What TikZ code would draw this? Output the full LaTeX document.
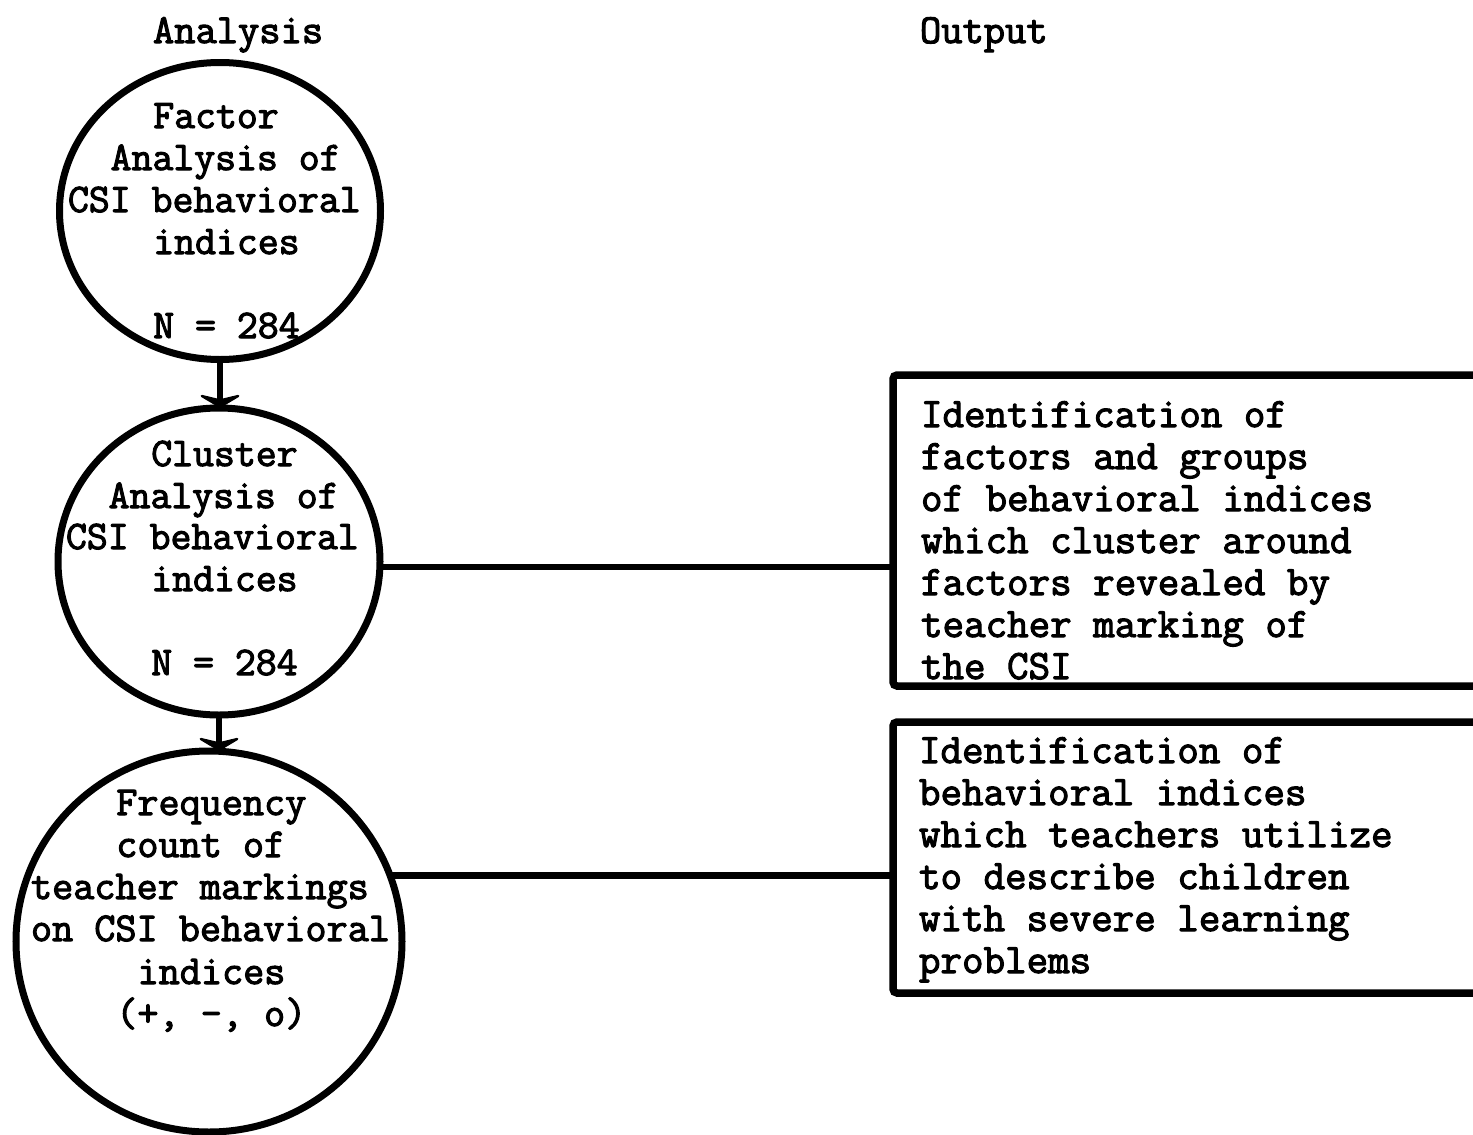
\documentclass[tikz,border=0pt]{standalone}
\usepackage{fontspec}
\newfontfamily\tw{Latin Modern Mono}[FakeBold=2.6]
\usetikzlibrary{shapes.geometric,arrows.meta}
% character pitch of the typewriter face in the circles
\newcommand\pch{21.32}
\begin{document}
\begin{tikzpicture}[x=1pt,y=-1pt,
  tw/.style={font={\tw\fontsize{#1}{42}\selectfont}, anchor=base west, inner sep=0, outer sep=0},
  tw/.default=40.6,
  bubble/.style={ellipse, draw, line width=7, inner sep=0, outer sep=0},
  outbox/.style={draw, line width=7.5, rounded corners=4, inner sep=0, outer sep=0, anchor=north west},
  link/.style={line width=6.5},
  arr/.style={line width=5.5, -{Stealth[length=15, width=50, inset=6, round]}}]
\useasboundingbox (0,0) rectangle (1473,1135);
\clip (0,0) rectangle (1473,1135);

% column headings
\node[tw=41.3] (hA) at (153,43) {Analysis};
\node[tw=41.3] (hO) at (920,43) {Output};

% analysis steps
\node[bubble, minimum width=321, minimum height=297] (c1) at (220,211) {};
\node[bubble, minimum width=322, minimum height=307] (c2) at (219,561.5) {};
\node[bubble, minimum width=386, minimum height=381] (c3) at (209,941.5) {};

\foreach \s/\b/\t [count=\i] in {4/128/Factor, 2/170/Analysis of, 0/212/CSI behavioral, 4/254/indices, 4/338/N = 284}
  \node[tw] (fa\i) at (68+\s*\pch, \b) {\t};

\foreach \s/\b/\t [count=\i] in {4/466/Cluster, 2/508/Analysis of, 0/549/CSI behavioral, 4/591/indices, 4/675/N = 284}
  \node[tw] (ca\i) at (66+\s*\pch, \b) {\t};

\foreach \s/\b/\t [count=\i] in {4/815/Frequency, 4/857/count of, 0/899/teacher markings, 0/941/on CSI behavioral, 5/984/indices, 4/1026/{(+, -, o)}}
  \node[tw=41] (fc\i) at (31+\s*\pch, \b) {\t};

% outputs
\node[outbox, minimum width=650, minimum height=311] (b1) at (893,375) {};
\node[outbox, minimum width=650, minimum height=271] (b2) at (893,722) {};

\foreach \t [count=\i] in {Identification of, factors and groups, of behavioral indices, which cluster around, factors revealed by, teacher marking of, the CSI}
  \node[tw=41.8] (oa\i) at (921, 385+42*\i) {\t};

\foreach \t [count=\i] in {Identification of, behavioral indices, which teachers utilize, to describe children, with severe learning, problems}
  \node[tw=41.8] (ob\i) at (919, 721+42*\i) {\t};

% connectors
\draw[arr] (c1.south) -- (c1.south |- c2.north);
\draw[arr] (c2.south) -- (c2.south |- c3.north);
\draw[link] (c2.358) -- (c2.358 -| b1.west);
\draw[link] (c3.20) -- (c3.20 -| b2.west);
\end{tikzpicture}
\end{document}
